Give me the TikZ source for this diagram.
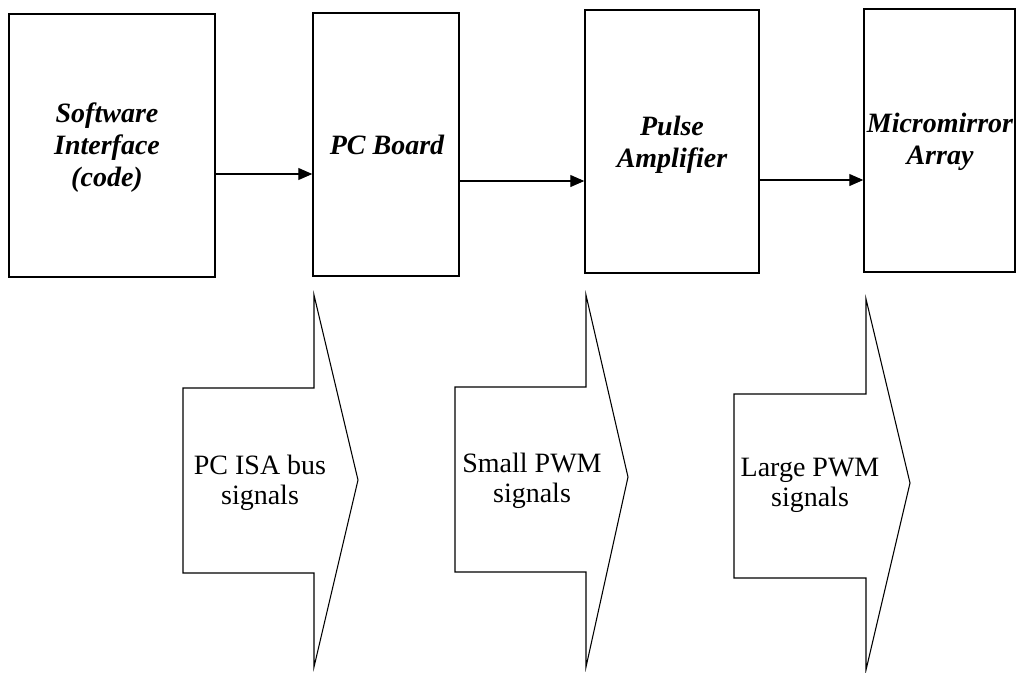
\documentclass[tikz,border=0pt]{standalone}
\usepackage{fontspec}
\setmainfont{Liberation Serif}
\usetikzlibrary{arrows.meta}
\begin{document}
\begin{tikzpicture}[x=0.75pt,y=-0.75pt,
  blk/.style={draw, line width=1.1pt, inner sep=0pt, minimum height=263*0.75pt},
  title/.style={align=center, inner sep=0pt, font=\fontsize{21}{24}\selectfont\bfseries\itshape},
  sigtext/.style={align=center, inner sep=0pt, font=\fontsize{21}{22.5}\selectfont},
  sig/.style={draw, line width=0.8pt, line join=miter},
  conn/.style={draw, line width=0.8pt, -{Triangle[length=10.5pt,width=9pt]}}]
\useasboundingbox[fill=white] (0,0) rectangle (1016,672);
% blocks
\node[blk, minimum width=206*0.75pt] (b1) at (112,145.5) {};
\node[blk, minimum width=146*0.75pt] (b2) at (386,144.5) {};
\node[blk, minimum width=174*0.75pt] (b3) at (672,141.5) {};
\node[blk, minimum width=151*0.75pt] (b4) at (939.5,140.5) {};
% titles
\node[title] (t1) at (107,148) {Software\\Interface\\(code)};
\node[title] (t2) at (387,145) {PC Board};
\node[title] (t3) at (672,145) {Pulse\\Amplifier};
\node[title] (t4) at (940,142) {Micromirror\\Array};
% connectors
\coordinate (ya) at (0,174);
\coordinate (yb) at (0,181);
\coordinate (yc) at (0,180);
\draw[conn] (b1.east |- ya) -- (b2.west |- ya);
\draw[conn] (b2.east |- yb) -- (b3.west |- yb);
\draw[conn] (b3.east |- yc) -- (b4.west |- yc);
% signal arrows
\draw[sig] (183,388) -- (314,388) -- (314,295) -- (358,480) -- (314,667) -- (314,573) -- (183,573) -- cycle;
\draw[sig] (455,387) -- (586,387) -- (586,295) -- (628,477) -- (586,667) -- (586,572) -- (455,572) -- cycle;
\draw[sig] (734,394) -- (866,394) -- (866,299) -- (910,483) -- (866,670) -- (866,578) -- (734,578) -- cycle;
\node[sigtext] (s1) at (260,483) {PC ISA bus\\signals};
\node[sigtext] (s2) at (532,481) {Small PWM\\signals};
\node[sigtext] (s3) at (810,485) {Large PWM\\signals};
\end{tikzpicture}
\end{document}
